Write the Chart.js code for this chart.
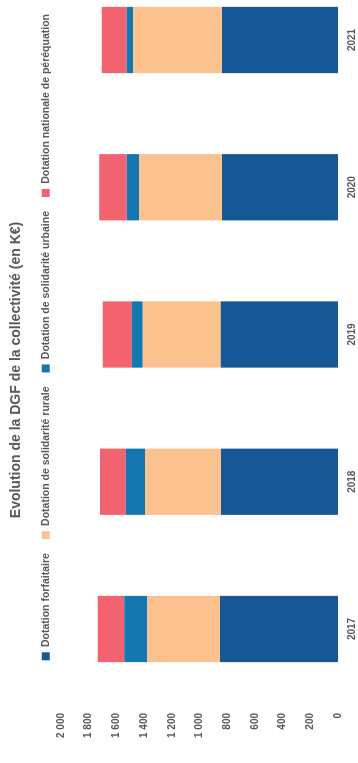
<!DOCTYPE html>
<html>
<head>
<meta charset="utf-8">
<script src="https://cdn.jsdelivr.net/npm/chart.js@4/dist/chart.umd.min.js"></script>
<style>
  html, body { margin: 0; padding: 0; background: #ffffff; overflow: hidden; }
  #wrap {
    position: absolute; left: 0; top: 0;
    width: 763px; height: 358px;
    transform-origin: 0 0;
    transform: translateY(763px) rotate(-90deg);
  }
  canvas { display: block; }
</style>
</head>
<body>
<div id="wrap"><canvas id="c" width="763" height="358"></canvas></div>
<script>
// ---- Data (K€) ----
const years = ['2017', '2018', '2019', '2020', '2021'];
const dotationForfaitaire = [852, 845, 847, 837, 837];
const dotationSolidariteRurale = [525, 549, 563, 600, 643];
const dotationSolidariteUrbaine = [166, 139, 80, 89, 46];
const dotationPerequation = [192, 185, 209, 197, 180];
const yTickLabels = ['0', '200', '400', '600', '800', '1 000', '1 200', '1 400', '1 600', '1 800', '2 000'];
const seriesNames = ['Dotation forfaitaire', 'Dotation de solidarité rurale', 'Dotation de solidarité urbaine', 'Dotation nationale de péréquation'];
const titleText = 'Evolution de la DGF de la collectivité (en K€)';

const textColor = '#595959';
Chart.defaults.font.family = '"Liberation Sans", Arial, sans-serif';
Chart.defaults.color = textColor;

const colors = ['#165896', '#fbc18f', '#1577b1', '#f3636f'];
const values = [dotationForfaitaire, dotationSolidariteRurale, dotationSolidariteUrbaine, dotationPerequation];

new Chart(document.getElementById('c'), {
  type: 'bar',
  data: {
    labels: years,
    datasets: values.map((v, i) => ({
      label: seriesNames[i],
      data: v,
      backgroundColor: colors[i],
      borderWidth: 0,
      categoryPercentage: 0.9,
      barPercentage: 0.5,
      clip: false
    }))
  },
  options: {
    responsive: false,
    devicePixelRatio: 1,
    animation: false,
    layout: { padding: { left: 23, right: 0, top: 0, bottom: 0 } },
    plugins: {
      title: {
        display: true,
        text: titleText,
        color: textColor,
        font: { size: 14, weight: 'bold' },
        padding: { top: 8, bottom: 1.7 }
      },
      legend: {
        display: true,
        position: 'top',
        align: 'end',
        labels: {
          boxWidth: 8,
          boxHeight: 8,
          padding: 14,
          color: textColor,
          font: { size: 10.5, weight: 'bold' }
        }
      },
      tooltip: { enabled: false }
    },
    scales: {
      x: {
        stacked: true,
        offset: false,
        grid: { display: false, drawTicks: false },
        border: { display: false },
        ticks: { padding: 8, color: textColor, font: { size: 10, weight: 'bold' }, autoSkip: false, maxRotation: 0 },
        afterFit: (s) => { s.height = 20; }
      },
      y: {
        stacked: true,
        min: 0,
        max: 2000,
        weight: 1,
        grid: { display: false, drawTicks: false },
        border: { display: false },
        ticks: {
          stepSize: 200,
          padding: 3,
          color: textColor,
          font: { size: 10, weight: 'bold' },
          callback: (v, i) => yTickLabels[i]
        },
        afterFit: (s) => { s.width = 30; }
      },
      yL: {
        type: 'linear',
        position: 'left',
        weight: 0,
        display: true,
        grid: { display: false, drawTicks: false },
        border: { display: false },
        ticks: { display: false },
        afterFit: (s) => { s.width = 81; }
      },
      yR: {
        type: 'linear',
        position: 'right',
        display: true,
        grid: { display: false, drawTicks: false },
        border: { display: false },
        ticks: { display: false },
        afterFit: (s) => { s.width = 40; }
      }
    }
  }
});
</script>
</body>
</html>
